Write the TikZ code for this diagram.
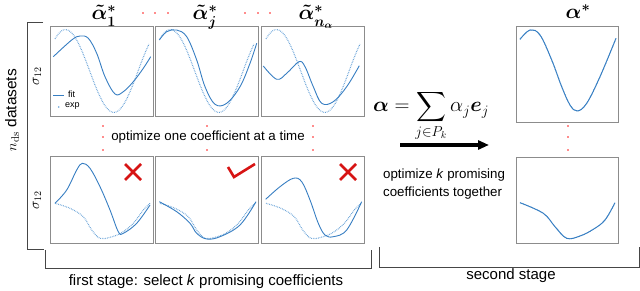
\documentclass[tikz,border=0pt]{standalone}
\usepackage{amsmath,bm}
\usepackage{fontspec}
\newfontfamily\lsans{Liberation Sans}
\usetikzlibrary{arrows.meta}
\definecolor{fitblue}{RGB}{55,126,194}
\definecolor{expblue}{RGB}{100,160,214}
\definecolor{framegray}{RGB}{140,140,140}
\definecolor{brackgray}{RGB}{70,70,70}
\definecolor{markred}{RGB}{215,20,20}
\begin{document}
\begin{tikzpicture}[x=1pt,y=-1pt,
  panel/.style={draw=framegray, line width=0.8pt, inner sep=0pt, anchor=north west},
  fitc/.style={draw=fitblue, line width=0.9pt, line join=round},
  expc/.style={draw=expblue, line width=1.1pt, dash pattern=on 0.7pt off 1.0pt},
  redmark/.style={draw=markred, line width=2.6pt},
  bracket/.style={draw=brackgray, line width=0.8pt},
  reddot/.style={circle, fill=red!90, inner sep=0pt, minimum size=1.6pt},
  lbl/.style={font=\lsans\fontsize{13.3}{15}\selectfont, inner sep=0pt},
  biglbl/.style={font=\lsans\fontsize{15}{18}\selectfont, inner sep=0pt},
  ttl/.style={font=\fontsize{19.5}{23}\selectfont\boldmath, inner sep=0pt, anchor=base}
]
\useasboundingbox (0,0) rectangle (640,291);

% ---------- panels ----------
\node[panel, minimum width=103pt, minimum height=90pt] (pA) at (50,26) {};
\node[panel, minimum width=103pt, minimum height=90pt] (pB) at (155,26) {};
\node[panel, minimum width=103pt, minimum height=90pt] (pC) at (261,26) {};
\node[panel, minimum width=103pt, minimum height=87pt] (qA) at (50,156) {};
\node[panel, minimum width=103pt, minimum height=87pt] (qB) at (155,156) {};
\node[panel, minimum width=103pt, minimum height=87pt] (qC) at (261,156) {};
\node[panel, minimum width=102pt, minimum height=96pt] (rT) at (516,26) {};
\node[panel, minimum width=102pt, minimum height=86pt] (rB) at (516,157) {};

% ---------- top row curves ----------
\foreach \p in {pA,pB,pC}{
  \begin{scope}[shift={(\p.north west)}]
    \draw[expc] plot[domain=5:99, samples=70] (\x, {45-41.4*cos((\x-15.5)/96.8*360)});
  \end{scope}
}
\begin{scope}[shift={(pA.north west)}]
  \draw[fitc] plot[smooth, tension=0.6] coordinates {(3.3,30.7) (21.7,14) (30,10) (38.3,12.3) (46.7,27.3) (55,50.7) (65,68) (73.3,65.7) (83.3,55.7) (93.3,42.3) (100.7,30.7)};
  % legend
  \draw[fitc] (3,69) -- (14,69);
  \node[anchor=west, inner sep=0pt, font=\lsans\fontsize{9}{10}\selectfont] (legfit) at (18,68.5) {fit};
  \fill[expblue] (8.7,81) circle (0.9pt);
  \node[anchor=west, inner sep=0pt, font=\lsans\fontsize{9}{10}\selectfont] (legexp) at (15,80.5) {exp};
\end{scope}
\begin{scope}[shift={(pB.north west)}]
  \draw[fitc] plot[smooth, tension=0.6] coordinates {(4.3,14) (11.7,5.7) (21.7,4) (31.7,10.7) (41.7,34) (50,60.7) (60,78.3) (71.7,77.3) (85,60.7) (95,37.3) (101.7,17.3)};
\end{scope}
\begin{scope}[shift={(pC.north west)}]
  \draw[fitc] plot[smooth, tension=0.6] coordinates {(2.3,40) (15.7,53.3) (25.7,47.3) (38,35.7) (44,40.7) (52.3,60.7) (60.7,77.3) (72.3,75.7) (85.7,60.7) (98.3,39.7)};
\end{scope}

% ---------- bottom row curves ----------
\foreach \p in {qA,qB,qC}{
  \begin{scope}[shift={(\p.north west)}]
    \draw[expc] plot[smooth, tension=0.6] coordinates {(5,47.3) (20,52.3) (33.3,60.7) (41.7,74) (50,82.3) (60,81.3) (71.7,76.7) (83.3,67.3) (93.3,54) (100,47.3)};
  \end{scope}
}
\begin{scope}[shift={(qA.north west)}]
  \draw[fitc] plot[smooth, tension=0.6] coordinates {(5,47.3) (16.7,34) (26.7,14) (32.3,7.3) (40,12.3) (50,30.7) (60,54) (68.3,75.7) (73.3,77.3) (86.7,67.3) (100,49)};
\end{scope}
\begin{scope}[shift={(qB.north west)}]
  \draw[fitc] plot[smooth, tension=0.6] coordinates {(4.3,45.7) (21.7,55.7) (35,67.3) (41.7,77.3) (51.7,83) (65,80.7) (85,69) (101,45.7)};
\end{scope}
\begin{scope}[shift={(qC.north west)}]
  \draw[fitc] plot[smooth, tension=0.6] coordinates {(4.7,43.3) (19,30.7) (32.3,22.3) (40.7,25.7) (49,44) (57.3,67.3) (64,79) (72.3,80.7) (85.7,74) (100.7,45.7)};
\end{scope}

% ---------- right panels ----------
\begin{scope}[shift={(rT.north west)}]
  \draw[expc] plot[smooth, tension=0.6] coordinates {(4,13.3) (14,4) (24,9) (35.7,34) (45.7,60.7) (54,79) (61.3,85) (70.7,77.3) (84,50.7) (100,12.3)};
  \draw[fitc] plot[smooth, tension=0.6] coordinates {(4,13.3) (14,4) (24,9) (35.7,34) (45.7,60.7) (54,79) (61.3,85) (70.7,77.3) (84,50.7) (100,12.3)};
\end{scope}
\begin{scope}[shift={(rB.north west)}]
  \draw[expc] plot[smooth, tension=0.6] coordinates {(4,45.7) (27.3,56.3) (39,69.7) (50.7,81.3) (64,79) (77.3,72.3) (89,63) (99,45.7)};
  \draw[fitc] plot[smooth, tension=0.6] coordinates {(4,45.7) (27.3,56.3) (39,69.7) (50.7,81.3) (64,79) (77.3,72.3) (89,63) (99,45.7)};
\end{scope}

% ---------- marks ----------
\draw[redmark] (125,164) -- (141,180);
\draw[redmark] (141,164) -- (125,180);
\draw[redmark] (340,164) -- (356,180);
\draw[redmark] (356,164) -- (340,180);
\draw[redmark, line join=miter] (228,167) -- (234,177) -- (255,164);

% ---------- red dots ----------
\foreach \x [count=\i] in {143,155,168,245,258,270}{
  \node[reddot] (td\i) at (\x,13) {};
}
\foreach \x [count=\i] in {103,207,313}{
  \node[reddot] (ma\i) at (\x,126) {};
  \node[reddot] (mc\i) at (\x,150) {};
}
\node[reddot] (mb1) at (103,137) {};
\node[reddot] (mb3) at (313,137) {};
\foreach \y [count=\i] in {126,137,150}{
  \node[reddot] (rd\i) at (568,\y) {};
}

% ---------- labels ----------
\node[ttl] (t1) at (104,20) {$\tilde{\alpha}^*_1$};
\node[ttl] (t2) at (205,20) {$\tilde{\alpha}^*_j$};
\node[ttl] (t3) at (316,20) {$\tilde{\alpha}^*_{n_\alpha}$};
\node[ttl] (t4) at (578,19) {$\alpha^*$};

\node[lbl] (mid) at (208,137) {optimize one coefficient at a time};

\node[font=\lsans\fontsize{15.5}{18}\selectfont, rotate=90, inner sep=0pt] (nds) at (12,110) {$n_{\mathrm{ds}}$ datasets};
\node[rotate=90, inner sep=0pt, font=\fontsize{14}{16}\selectfont] (s1) at (37,76) {$\sigma_{12}$};
\node[rotate=90, inner sep=0pt, font=\fontsize{14}{16}\selectfont] (s2) at (37,200) {$\sigma_{12}$};

\node[anchor=base west, inner sep=0pt, font=\fontsize{20}{24}\selectfont] (formula) at (373,112) {$\displaystyle \bm{\alpha} = \sum_{j\in P_k}\alpha_j\bm{e}_j$};

\coordinate (arrS) at (400,145);
\coordinate (arrE) at (489,145);
\draw[line width=3.4pt, -{Triangle[length=11pt,width=9pt]}] (arrS) -- (arrE);

\node[lbl, anchor=west, align=left, font=\lsans\fontsize{13.3}{18}\selectfont] (opt2) at (383,184) {optimize \textit{k} promising\\coefficients together};

% ---------- brackets ----------
\draw[bracket] (43,22) -- (27,22) -- (27,249) -- (44,249);
\draw[bracket] (45,250) -- (45,268) -- (371,268) -- (371,250);
\draw[bracket] (379,247) -- (379,267) -- (639,267) -- (639,247);

\node[biglbl] (first) at (206,282) {first stage: select \textit{k} promising coefficients};
\node[biglbl] (second) at (511,276) {second stage};
\end{tikzpicture}
\end{document}
